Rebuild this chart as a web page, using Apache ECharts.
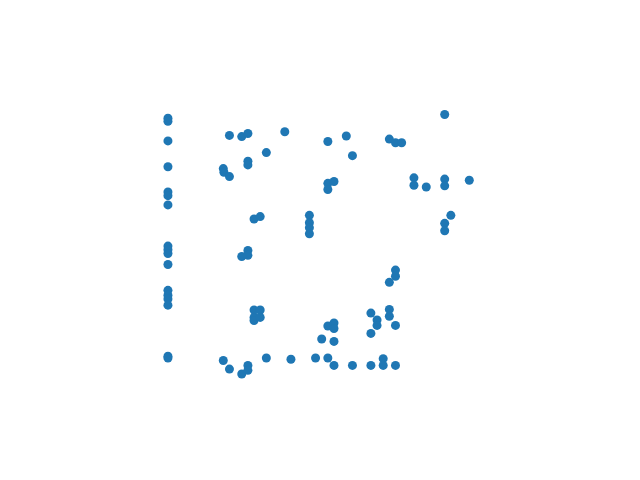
<!DOCTYPE html>
<html>
<head>
<meta charset="utf-8">
<script src="https://cdn.jsdelivr.net/npm/echarts@6/dist/echarts.min.js"></script>
<style>
  html, body { margin: 0; padding: 0; background: #fff; }
  #chartBox { width: 640px; height: 480px; }
</style>
</head>
<body>
<div id="chartBox"></div>
<script>
// x positions and the y values found at each of them
const xCols = [0, 9, 9.1, 10, 12, 13, 14, 15, 16, 19, 20, 23, 24, 25, 26, 27, 29, 30, 33, 34, 35, 36, 37, 38, 40, 42, 45, 46, 49];
const yCols = [
  [41.6, 41.1, 37.9, 33.7, 29.6, 29.0, 27.5, 20.8, 20.2, 19.6, 17.8, 13.6, 12.8, 12.2, 11.2, 2.9, 2.6],
  [33.4, 2.2],
  [32.8],
  [38.8, 32.1, 0.8],
  [38.6, 19.1, 0.0],
  [39.1, 34.6, 34.0, 20.1, 19.3, 1.4, 0.6],
  [25.2, 10.4, 9.2, 8.7],
  [25.6, 10.4, 9.2],
  [36.0, 2.6],
  [39.4],
  [2.4],
  [25.8, 24.6, 23.8, 22.8],
  [2.6],
  [5.7],
  [37.8, 31.0, 30.0, 7.8, 2.6],
  [31.3, 8.3, 7.4, 5.3, 1.4],
  [38.7],
  [35.5, 1.4],
  [9.9, 6.6, 1.4],
  [8.8, 7.9],
  [2.5, 1.4],
  [38.2, 14.9, 10.5, 9.4],
  [37.6, 16.9, 15.9, 7.9, 1.4],
  [37.6],
  [31.9, 30.7],
  [30.4],
  [42.2, 31.7, 30.6, 24.5, 23.3],
  [25.8],
  [31.5]
];

const data = [];
xCols.forEach((x, i) => {
  yCols[i].forEach((y) => data.push([x, y]));
});

const chartDom = document.getElementById("chartBox");
const myChart = echarts.init(chartDom);
const option = {
  animation: false,
  grid: { left: 80, right: 64, top: 57.6, bottom: 52.8, containLabel: false },
  xAxis: { type: "value", min: -14.3, max: 66.35, show: false },
  yAxis: { type: "value", min: -8.65, max: 51.45, show: false },
  series: [
    {
      type: "scatter",
      symbolSize: 9,
      itemStyle: { color: "#1f77b4", opacity: 1 },
      data: data,
    },
  ],
};
myChart.setOption(option);
</script>
</body>
</html>
